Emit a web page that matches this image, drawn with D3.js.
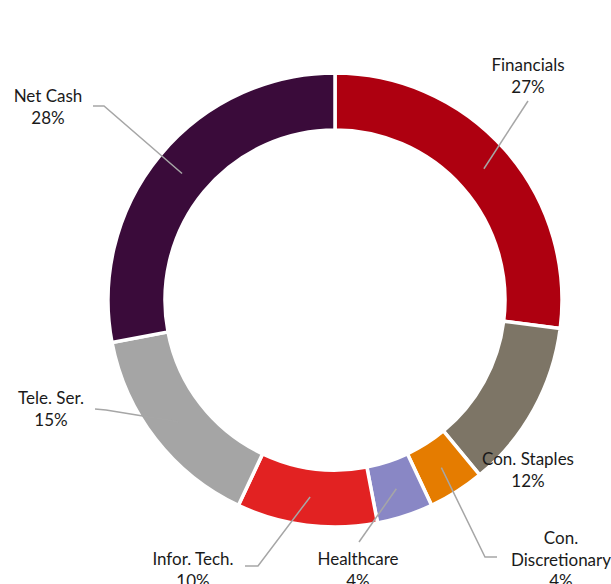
<!DOCTYPE html>
<html>
<head>
<meta charset="utf-8" />
<script src="https://d3js.org/d3.v7.min.js"></script>
<style>
  body { margin: 0; background: #fff; }
  .etiquette { font-family: Lato, "Open Sans", sans-serif; font-size: 17px; fill: #1a1a1a; }
</style>
</head>
<body>
<div id="visu"></div>
<script>

// Données
const secteurs = ["Financials", "Con. Staples", "Con. Discretionary", "Healthcare", "Infor. Tech.", "Tele. Ser.", "Net Cash"];
const poids = [27, 12, 4, 4, 10, 15, 28];
const couleurs = ["#ae0010", "#7d7566", "#e57c00", "#8987c5", "#e22222", "#a5a5a5", "#3a0b3a"];

// Dimensions
const largeur = 611;
const hauteur = 584;
const cx = 335, cy = 300;
const rayonExt = 227, rayonInt = 170;

// Position des étiquettes (centre x, ligne de base de la 1re ligne) et coudes des traits de rappel
const etiquettes = [
    {x: 528, y: 71, coude: [[528, 101]]},
    {x: 528, y: 465, coude: null},
    {x: 561, y: 544, coude: [[497, 557], [485, 557]], coupe: true},
    {x: 358, y: 565, coude: [[359, 542]]},
    {x: 193, y: 565, coude: [[245, 566], [258, 566]]},
    {x: 51, y: 404, coude: [[95, 409], [106, 410]]},
    {x: 48, y: 102, coude: [[93, 106], [104, 106]]}
];

const svg = d3.select('#visu')
    .append('svg')
    .attr('width', largeur)
    .attr('height', hauteur);

const g = svg.append('g').attr('transform', `translate(${cx}, ${cy})`);

const pie = d3.pie().sort(null).value(d => d);
const arcs = pie(poids);

const arc = d3.arc().innerRadius(rayonInt).outerRadius(rayonExt);

// Secteurs de l'anneau
g.selectAll('path.secteur')
    .data(arcs)
    .enter()
    .append('path')
    .attr('class', 'secteur')
    .attr('d', arc)
    .attr('fill', (d, i) => couleurs[i])
    .attr('stroke', '#fff')
    .attr('stroke-width', 3.5);

// Traits de rappel
const ligne = d3.line();
arcs.forEach((d, i) => {
    const e = etiquettes[i];
    if (!e.coude) return;
    const c = arc.centroid(d);
    const pts = e.coude.map(p => [p[0] - cx, p[1] - cy]).concat([c]);
    g.append('path')
        .attr('d', ligne(pts))
        .attr('fill', 'none')
        .attr('stroke', '#a6a6a6')
        .attr('stroke-width', 1.5);
});

// Étiquettes
arcs.forEach((d, i) => {
    const e = etiquettes[i];
    const lignes = e.coupe ? secteurs[i].split(' ') : [secteurs[i]];
    lignes.push(poids[i] + '%');
    const t = svg.append('text')
        .attr('class', 'etiquette')
        .attr('text-anchor', 'middle');
    lignes.forEach((l, j) => {
        t.append('tspan')
            .attr('x', e.x)
            .attr('y', e.y + j * 21.5)
            .text(l);
    });
});

</script>
</body>
</html>
